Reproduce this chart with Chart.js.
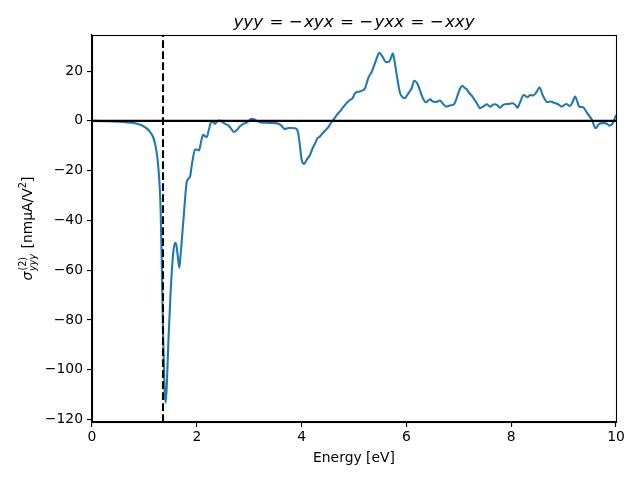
<!DOCTYPE html>
<html>
<head>
<meta charset="utf-8">
<script src="https://cdn.jsdelivr.net/npm/chart.js@4.4.1/dist/chart.umd.min.js"></script>
<style>
html,body{margin:0;padding:0;background:#fff;}
#wrap{width:640px;height:480px;}
</style>
</head>
<body>
<div id="wrap"><canvas id="c" width="640" height="480"></canvas></div>
<script>
// ---- data ----
const energy = [0.0,0.2,0.4,0.6,0.8,0.92,1.0,1.1,1.2,1.27,1.31,1.336,1.36,1.385,1.406,1.43,1.457,1.50,1.55,1.584,1.61,1.635,1.667,1.69,1.71,1.76,1.81,1.87,1.91,1.966,2.0,2.04,2.09,2.12,2.16,2.19,2.23,2.28,2.32,2.35,2.39,2.44,2.49,2.54,2.60,2.66,2.71,2.76,2.82,2.88,2.95,3.05,3.1,3.17,3.25,3.4,3.56,3.62,3.68,3.75,3.81,3.88,3.93,3.96,4.00,4.05,4.10,4.16,4.21,4.26,4.3,4.35,4.40,4.45,4.51,4.57,4.62,4.67,4.73,4.80,4.86,4.92,4.97,5.02,5.11,5.17,5.21,5.24,5.27,5.34,5.40,5.44,5.48,5.55,5.61,5.67,5.71,5.74,5.78,5.83,5.88,5.93,5.97,6.02,6.06,6.10,6.15,6.22,6.29,6.37,6.42,6.46,6.50,6.55,6.60,6.64,6.70,6.76,6.83,6.91,6.95,6.99,7.03,7.07,7.11,7.15,7.20,7.25,7.31,7.36,7.40,7.47,7.53,7.58,7.61,7.65,7.69,7.74,7.79,7.84,7.88,7.96,8.03,8.08,8.12,8.17,8.24,8.31,8.36,8.42,8.48,8.54,8.60,8.64,8.68,8.75,8.80,8.85,8.91,8.96,9.05,9.12,9.17,9.22,9.26,9.30,9.37,9.45,9.54,9.61,9.68,9.74,9.79,9.83,9.87,9.94,10.0];
const sigmaYYY = [0,-0.1,-0.2,-0.45,-0.9,-1.6,-2.4,-4.2,-8.8,-19.7,-35.7,-62.5,-89,-108,-113.3,-105,-89,-69,-53,-49,-50,-54,-59,-54,-49,-35.7,-24.4,-22.4,-17,-11.6,-11.5,-11.9,-7.6,-5.6,-6.2,-6.5,-3.6,-0.3,-0.6,-1.2,-0.2,0.1,-0.5,-1.2,-1.8,-3.3,-4.5,-3.8,-2.3,-1.3,-0.7,0.8,0.6,-0.3,-0.7,-0.8,-1.2,-2.0,-3.3,-2.9,-2.9,-3.0,-4.5,-8.5,-15.5,-17.3,-15.5,-13.7,-11,-9,-7.0,-6.3,-5,-3.9,-2.5,-0.5,0.8,2.3,3.8,5.7,7.2,8.4,9.0,11.1,11.8,12.3,13.1,15,17.1,19.8,23.2,25.5,27.4,25.6,23.6,23.8,25.5,27.2,23.2,16.5,11.1,9.5,9.1,10.5,11.8,13.1,16.1,14.5,10.4,7.5,8.2,8.7,7.8,7.6,7.8,8.2,6.8,5.7,6.2,6.7,8.5,11.1,13.2,14.1,13.3,12.7,11.2,10,8.2,6.5,5.1,5.8,6.7,6.0,5.7,6.5,6.7,6.2,5.3,6.3,6.7,6.8,7.1,6.3,5.3,7.5,10.4,9.5,10.4,10.2,11.5,13.4,10.4,8.8,7.5,7.8,7.4,7.1,6.5,5.7,6.8,6.0,7.5,9.8,7.8,5.7,5.5,3.1,0.4,-2.9,-1.2,-0.9,-0.9,-1.2,-1.9,-0.9,2.4];
const bandGap = 1.355;
const xRange = [0, 10];
const yRange = [-121, 34.5];
const xTicks = [0, 2, 4, 6, 8, 10];
const yTicks = [-120, -100, -80, -60, -40, -20, 0, 20];
const titleParts = [["yyy", true], [" = \u2212", false], ["xyx", true], [" = \u2212", false], ["yxx", true], [" = \u2212", false], ["xxy", true]];
const xLabel = "Energy [eV]";

// ---- chart ----
const FONT = "'DejaVu Sans', sans-serif";
const curve = energy.map((e, i) => ({x: e, y: sigmaYYY[i]}));

const decor = {
  id: 'decor',
  afterDraw(chart) {
    const ctx = chart.ctx, a = chart.chartArea;
    ctx.save();
    // frame
    ctx.strokeStyle = '#000'; ctx.lineWidth = 1.1;
    ctx.strokeRect(Math.round(a.left) + 0.5, Math.round(a.top) + 0.5, Math.round(a.right - a.left), Math.round(a.bottom - a.top));
    // title
    const cx = (a.left + a.right) / 2;
    ctx.fillStyle = '#000';
    ctx.textBaseline = 'alphabetic';
    const fs = 16.7;
    const fontFor = it => (it ? 'italic ' : '') + fs + 'px ' + FONT;
    const extra = 2.3;
    let total = 0;
    titleParts.forEach(p => { ctx.font = fontFor(p[1]); total += ctx.measureText(p[0]).width + (p[1] ? 0 : extra); });
    let x = cx - total / 2;
    titleParts.forEach(p => {
      ctx.font = fontFor(p[1]); ctx.textAlign = 'left';
      if (!p[1]) x += extra / 2;
      ctx.fillText(p[0], x, 27);
      x += ctx.measureText(p[0]).width + (p[1] ? 0 : extra / 2);
    });
    // x label
    ctx.font = '13.9px ' + FONT; ctx.textAlign = 'center';
    ctx.fillText(xLabel, cx, 462);
    // y label (rotated)
    const cy = (a.top + a.bottom) / 2;
    ctx.translate(32, cy);
    ctx.rotate(-Math.PI / 2);
    const big = 13.9, small = 9.7;
    const pieces = [
      {t: "\u03c3", f: 'italic ' + big + 'px ' + FONT, dy: 0},
      {t: "(2)", f: small + 'px ' + FONT, dy: -6},
      {t: "yyy", f: 'italic ' + small + 'px ' + FONT, dy: 4},
      {t: " [nm\u03bcA/V", f: big + 'px ' + FONT, dy: 0},
      {t: "2", f: small + 'px ' + FONT, dy: -6},
      {t: "]", f: big + 'px ' + FONT, dy: 0}
    ];
    const xs = [];
    ctx.font = pieces[0].f; const sw = ctx.measureText(pieces[0].t).width;
    xs[0] = 0; xs[1] = sw + 1; xs[2] = sw + 0.5;
    ctx.font = pieces[1].f; const w1 = ctx.measureText(pieces[1].t).width;
    ctx.font = pieces[2].f; const w2 = ctx.measureText(pieces[2].t).width;
    let acc = sw + Math.max(w1 + 1, w2 + 0.5) + 1;
    for (let i = 3; i < pieces.length; i++) { xs[i] = acc; ctx.font = pieces[i].f; acc += ctx.measureText(pieces[i].t).width; }
    const start = -acc / 2;
    ctx.textAlign = 'left';
    pieces.forEach((p, i) => { ctx.font = p.f; ctx.fillText(p.t, start + xs[i], p.dy); });
    ctx.restore();
  }
};

new Chart(document.getElementById('c'), {
  type: 'line',
  data: {
    datasets: [
      {data: [{x: bandGap, y: yRange[0]}, {x: bandGap, y: yRange[1]}], borderColor: '#000', borderWidth: 2.08, borderDash: [7.7, 3.3], pointRadius: 0, tension: 0},
      {data: [{x: xRange[0], y: 0}, {x: xRange[1], y: 0}], borderColor: '#000', borderWidth: 2.08, pointRadius: 0, tension: 0},
      {data: curve, borderColor: '#1f77b4', borderWidth: 2.08, pointRadius: 0, cubicInterpolationMode: 'monotone'}
    ]
  },
  options: {
    responsive: false,
    animation: false,
    events: [],
    layout: {padding: {top: 35, right: 24, bottom: 0, left: 0}},
    plugins: {legend: {display: false}, tooltip: {enabled: false}, title: {display: false}},
    scales: {
      x: {
        type: 'linear', min: xRange[0], max: xRange[1],
        afterBuildTicks: s => { s.ticks = xTicks.map(v => ({value: v})); },
        afterFit: s => { s.height = 58; },
        grid: {display: true, drawOnChartArea: false, drawTicks: true, tickLength: 5, color: '#000', lineWidth: 1.1},
        border: {display: true, color: '#000', width: 1.1},
        ticks: {color: '#000', font: {family: FONT, size: 13.9}, padding: 2, maxRotation: 0, autoSkip: false,
                callback: v => String(v).replace('-', '\u2212')}
      },
      y: {
        type: 'linear', min: yRange[0], max: yRange[1],
        afterBuildTicks: s => { s.ticks = yTicks.map(v => ({value: v})); },
        afterFit: s => { s.width = 92; },
        grid: {display: true, drawOnChartArea: false, drawTicks: true, tickLength: 5, color: '#000', lineWidth: 1.1},
        border: {display: true, color: '#000', width: 1.1},
        ticks: {color: '#000', font: {family: FONT, size: 13.9}, padding: 4, autoSkip: false,
                callback: v => String(v).replace('-', '\u2212')}
      }
    }
  },
  plugins: [decor]
});
</script>
</body>
</html>
